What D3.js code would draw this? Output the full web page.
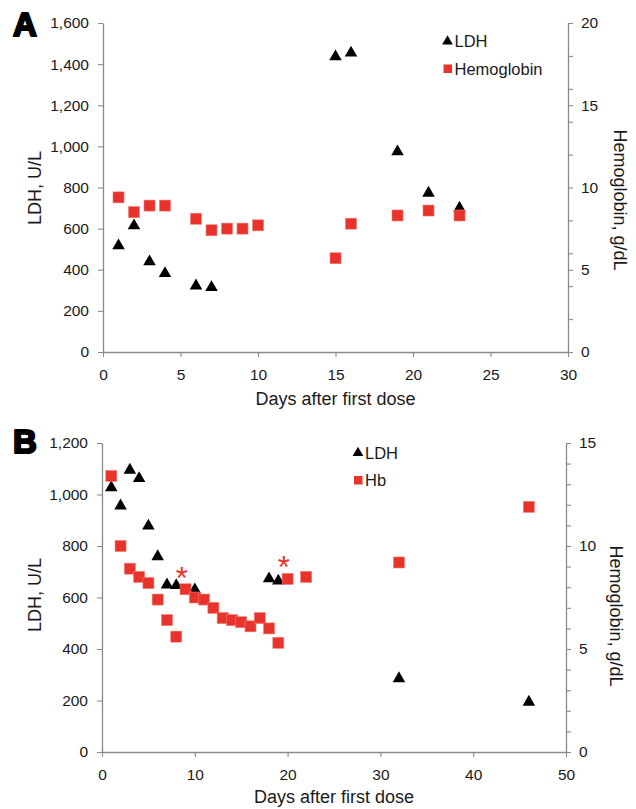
<!DOCTYPE html>
<html>
<head>
<meta charset="utf-8">
<script src="https://cdn.jsdelivr.net/npm/d3@7"></script>
<style>
  html, body { margin: 0; padding: 0; background: #fff; }
  svg text { font-family: "Liberation Sans", Arial, sans-serif; fill: #1a1a1a; }
</style>
</head>
<body>
<svg id="chart" width="636" height="809"></svg>
<script>
// ---- Panel A data ----
const aLdhDays = [1, 2, 3, 4, 6, 7, 15, 16, 19, 21, 23];
const aLdh = [522, 619, 444, 387, 327, 319, 1441, 1459, 979, 778, 705];
const aHbDays = [1, 2, 3, 4, 6, 7, 8, 9, 10, 15, 16, 19, 21, 23];
const aHb = [9.4, 8.5, 8.9, 8.9, 8.1, 7.4, 7.5, 7.5, 7.7, 5.7, 7.8, 8.3, 8.6, 8.3];
const aXTicks = [0, 5, 10, 15, 20, 25, 30];
const aLeftTicks = [0, 200, 400, 600, 800, 1000, 1200, 1400, 1600];
const aRightLabels = [0, 5, 10, 15, 20];
const aRightTicks = [0, 2, 4, 5, 6, 8, 10, 12, 14, 15, 16, 18, 20];
const aLegend = ["LDH", "Hemoglobin"];

// ---- Panel B data ----
const bLdhDays = [1, 2, 3, 4, 5, 6, 7, 8, 10, 18, 19, 32, 46];
const bLdh = [1031, 960, 1099, 1066, 882, 763, 653, 651, 634, 677, 668, 289, 198];
const bHbDays = [1, 2, 3, 4, 5, 6, 7, 8, 9, 10, 11, 12, 13, 14, 15, 16, 17, 18, 19, 20, 22, 32, 46];
const bHb = [13.4, 10.0, 8.9, 8.5, 8.2, 7.4, 6.4, 5.6, 7.9, 7.5, 7.4, 7.0, 6.5, 6.4, 6.3, 6.1, 6.5, 6.0, 5.3, 8.4, 8.5, 9.2, 11.9];
const bAsteriskDays = [8.6, 19.6];
const bAsteriskHb = [8.86, 9.39];
const bXTicks = [0, 10, 20, 30, 40, 50];
const bLeftTicks = [0, 200, 400, 600, 800, 1000, 1200];
const bRightLabels = [0, 5, 10, 15];
const bRightTicks = d3.range(0, 16);
const bLegend = ["LDH", "Hb"];

const svg = d3.select("#chart");
const AXIS = "#8a8a8a";
const RED = "#e8322c";
const fmt = d3.format(",");

function panel(cfg) {
  const g = svg.append("g");
  const x = d3.scaleLinear().domain(cfg.xDomain).range([cfg.left, cfg.right]);
  const yL = d3.scaleLinear().domain(cfg.yLDomain).range([cfg.bottom, cfg.top]);
  const yR = d3.scaleLinear().domain(cfg.yRDomain).range([cfg.bottom, cfg.top]);

  // bottom axis
  const xa = g.append("g").attr("transform", `translate(0,${cfg.bottom})`)
    .call(d3.axisBottom(x).tickValues(cfg.xTicks).tickSize(5).tickPadding(9).tickSizeOuter(0));
  // left axis
  const la = g.append("g").attr("transform", `translate(${cfg.left},0)`)
    .call(d3.axisLeft(yL).tickValues(cfg.leftTicks).tickFormat(fmt).tickSize(5).tickPadding(9).tickSizeOuter(0));
  // right axis
  const ra = g.append("g").attr("transform", `translate(${cfg.right},0)`)
    .call(d3.axisRight(yR).tickValues(cfg.rightTicks)
      .tickFormat(d => cfg.rightLabels.includes(d) ? d : "")
      .tickSize(5).tickPadding(8).tickSizeOuter(0));
  [xa, la, ra].forEach(a => {
    a.select(".domain").attr("stroke", AXIS).attr("stroke-width", 1.3);
    a.selectAll(".tick line").attr("stroke", AXIS).attr("stroke-width", 1.1);
    a.selectAll(".tick text").attr("font-size", 15.5).attr("fill", "#1a1a1a")
      .style("font-family", "'Liberation Sans', Arial, sans-serif");
  });
  xa.selectAll(".tick text").attr("dy", "0.9em");

  // axis titles
  g.append("text").attr("x", (cfg.left + cfg.right) / 2).attr("y", cfg.xTitleY)
    .attr("text-anchor", "middle").attr("font-size", 18).text("Days after first dose");
  g.append("text").attr("transform", `translate(${cfg.lTitleX},${cfg.lTitleY}) rotate(-90)`)
    .attr("text-anchor", "middle").attr("dy", "0.35em").attr("font-size", 18).text("LDH, U/L");
  g.append("text").attr("transform", `translate(${cfg.rTitleX},${cfg.rTitleY}) rotate(90)`)
    .attr("text-anchor", "middle").attr("dy", "0.35em").attr("font-size", 18).text("Hemoglobin, g/dL");

  // panel letter
  g.append("text").attr("x", cfg.letterX).attr("y", cfg.letterY)
    .attr("font-size", 33).attr("font-weight", 900)
    .attr("stroke", "#000").attr("stroke-width", 2.2).attr("stroke-linejoin", "round")
    .style("fill", "#000").text(cfg.letter);

  // LDH triangles
  const tri = d3.symbol().type(d3.symbolTriangle).size(68);
  g.append("g").selectAll("path").data(cfg.ldhDays).join("path")
    .attr("d", tri)
    .attr("transform", (d, i) => `translate(${x(d)},${yL(cfg.ldh[i]) + 1})`)
    .attr("fill", "#000");

  // Hb squares
  const s = 11;
  g.append("g").selectAll("rect").data(cfg.hbDays).join("rect")
    .attr("x", d => x(d) - s / 2)
    .attr("y", (d, i) => yR(cfg.hb[i]) - s / 2)
    .attr("width", s).attr("height", s)
    .attr("fill", RED).attr("stroke", "#f07a70").attr("stroke-width", 0.6);

  // asterisks
  if (cfg.astDays) {
    g.append("g").selectAll("text").data(cfg.astDays).join("text")
      .attr("x", d => x(d)).attr("y", (d, i) => yR(cfg.astHb[i]))
      .attr("text-anchor", "middle").attr("dy", "0.62em")
      .attr("font-size", 31).style("fill", RED).text("*");
  }

  // legend
  const lg = g.append("g");
  lg.append("path").attr("d", d3.symbol().type(d3.symbolTriangle).size(50))
    .attr("transform", `translate(${cfg.legX},${cfg.legY})`).attr("fill", "#000");
  lg.append("rect").attr("x", cfg.legX - 4).attr("y", cfg.legY + 27 - 4)
    .attr("width", 8.5).attr("height", 8.5).attr("fill", RED);
  lg.selectAll("text").data(cfg.legend).join("text")
    .attr("x", cfg.legX + 7).attr("y", (d, i) => cfg.legY + 5.5 + i * 27.5)
    .attr("font-size", 16.5).text(d => d);
}

panel({
  letter: "A", letterX: 13, letterY: 36,
  left: 103, right: 568, top: 23, bottom: 352,
  xDomain: [0, 30], yLDomain: [0, 1600], yRDomain: [0, 20],
  xTicks: aXTicks, leftTicks: aLeftTicks, rightTicks: aRightTicks, rightLabels: aRightLabels,
  ldhDays: aLdhDays, ldh: aLdh, hbDays: aHbDays, hb: aHb,
  xTitleY: 405, lTitleX: 35, lTitleY: 188, rTitleX: 620, rTitleY: 200,
  legX: 447.5, legY: 41.5, legend: aLegend
});

panel({
  letter: "B", letterX: 13, letterY: 453,
  left: 102, right: 566, top: 443, bottom: 752,
  xDomain: [0, 50], yLDomain: [0, 1200], yRDomain: [0, 15],
  xTicks: bXTicks, leftTicks: bLeftTicks, rightTicks: bRightTicks, rightLabels: bRightLabels,
  ldhDays: bLdhDays, ldh: bLdh, hbDays: bHbDays, hb: bHb,
  astDays: bAsteriskDays, astHb: bAsteriskHb,
  xTitleY: 803, lTitleX: 35, lTitleY: 595, rTitleX: 616, rTitleY: 616,
  legX: 358, legY: 453, legend: bLegend
});
</script>
</body>
</html>
